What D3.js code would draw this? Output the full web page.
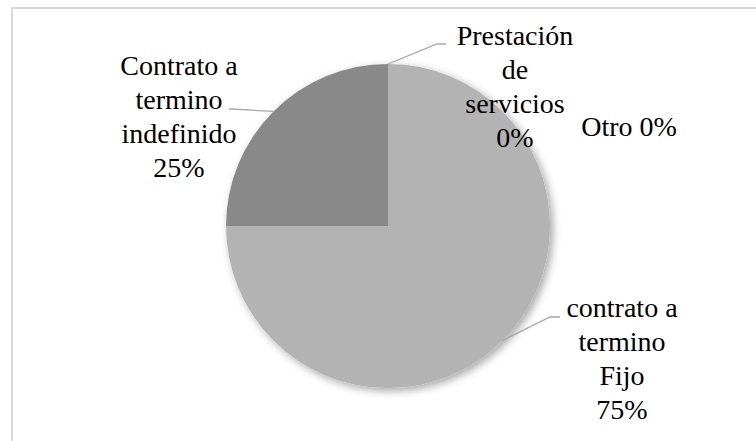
<!DOCTYPE html>
<html>
<head>
<meta charset="utf-8">
<script src="https://cdn.jsdelivr.net/npm/d3@7/dist/d3.min.js"></script>
<style>
  html, body { margin: 0; padding: 0; background: #fff; }
  svg { display: block; }
</style>
</head>
<body>
<svg id="chart" width="756" height="441"></svg>
<script>
// Contract types and their shares (percent)
const categories = ["contrato a termino Fijo", "Contrato a termino indefinido", "Prestación de servicios", "Otro"];
const values = [75, 25, 0, 0];
// Label text, split into lines (the percentage is appended below)
const labelLines = [
  ["contrato a", "termino", "Fijo"],
  ["Contrato a", "termino", "indefinido"],
  ["Prestación", "de", "servicios"],
  ["Otro"]
];
const colors = ["#b3b3b3", "#898989", "#c8c8c8", "#dcdcdc"];

const W = 756, H = 441;
const cx = 388, cy = 226, R = 162;
const lineH = 34;
const FONT = "'Liberation Serif', 'Times New Roman', 'Liberation Sans Narrow', 'Arial Narrow', serif";

const svg = d3.select("#chart");

// chart area frame
svg.append("rect")
  .attr("x", 12).attr("y", 8)
  .attr("width", W + 10).attr("height", H + 10)
  .attr("fill", "#fff")
  .attr("stroke", "#d9d9d9").attr("stroke-width", 2);

const defs = svg.append("defs");
const f = defs.append("filter").attr("id", "shadow")
  .attr("x", "-20%").attr("y", "-20%").attr("width", "140%").attr("height", "140%");
f.append("feDropShadow")
  .attr("dx", 3).attr("dy", 3).attr("stdDeviation", 4)
  .attr("flood-color", "#000").attr("flood-opacity", 0.35);

const total = d3.sum(values);
const pie = d3.pie().sort(null).startAngle(0).endAngle(2 * Math.PI);
const arcs = pie(values);
const arc = d3.arc().innerRadius(0).outerRadius(R);

const g = svg.append("g").attr("transform", `translate(${cx},${cy})`);
g.append("g").attr("filter", "url(#shadow)")
  .selectAll("path")
  .data(arcs.filter(d => d.value > 0))
  .join("path")
  .attr("d", arc)
  .attr("fill", (d) => colors[d.index]);

// label placement: block centre x, first baseline y, elbow point for leader
const labelLayout = [
  { x: 622, y: 317, elbow: [550, 317], end: [560, 317] },
  { x: 179, y: 75, elbow: [232, 109], end: [229, 109] },
  { x: 515, y: 45, elbow: [437, 44], end: [446, 44] },
  { x: 629, y: 136, elbow: null }
];

arcs.forEach((d, i) => {
  const L = labelLayout[i];
  const pct = Math.round(d.value / total * 100) + "%";
  const mid = (d.startAngle + d.endAngle) / 2;
  const px = cx + R * Math.sin(mid), py = cy - R * Math.cos(mid);
  if (L.elbow) {
    svg.append("polyline")
      .attr("points", [[px, py], L.elbow, L.end].map(p => p.join(",")).join(" "))
      .attr("fill", "none").attr("stroke", "#a6a6a6").attr("stroke-width", 1.3);
  }
  const lines = labelLines[i].length === 1 ? [labelLines[i][0] + " " + pct] : labelLines[i].concat([pct]);
  const t = svg.append("text")
    .attr("text-anchor", "middle")
    .attr("font-family", FONT)
    .attr("font-size", 28)
    .attr("fill", "#000");
  lines.forEach((s, k) => {
    t.append("tspan").attr("x", L.x).attr("y", L.y + k * lineH).text(s);
  });
});
</script>
</body>
</html>
